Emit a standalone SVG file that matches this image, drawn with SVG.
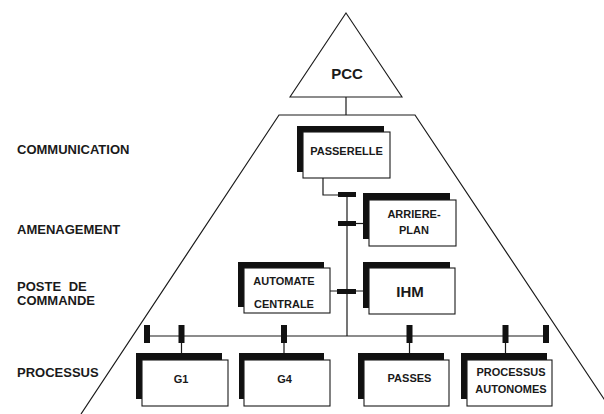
<svg xmlns="http://www.w3.org/2000/svg" width="604" height="414" viewBox="0 0 604 414">
<style>
.ln{fill:none;stroke:#1a1a1a;stroke-width:1.2}
.bk{fill:#111}
.fr{fill:#fff;stroke:#1a1a1a;stroke-width:1.1}
.bar{fill:#111}
text{font-family:"Liberation Sans",Arial,sans-serif;font-weight:bold;fill:#1a1a1a}
.bt{font-size:11px;text-anchor:middle}
.lb{font-size:13px}
</style>
<rect width="604" height="414" fill="#fff"/>
<g id="frame">
<path class="ln" d="M81,414 L279,115 L415,115 L614,414"/>
</g>
<g id="labels">
<text class="lb" x="17" y="154">COMMUNICATION</text>
<text class="lb" x="17" y="234">AMENAGEMENT</text>
<text class="lb" x="17" y="291" word-spacing="4">POSTE DE</text>
<text class="lb" x="17" y="305">COMMANDE</text>
<text class="lb" x="17" y="377">PROCESSUS</text>
</g>
<g id="connectors">
<path class="ln" d="M346,97 L346,115"/>
<path class="ln" d="M323,178 L323,195 L347,195"/>
<path class="ln" d="M347,195 L347,336"/>
<path class="ln" d="M356,223.5 L363,223.5"/>
<path class="ln" d="M330,291 L363,291"/>
<path class="ln" d="M147,336 L546,336"/>
<path class="ln" d="M181.5,343 L181.5,354 M284,343 L284,354 M409.5,343 L409.5,354 M505.5,343 L505.5,354"/>
<rect class="bar" x="338" y="192" width="18" height="5"/>
<rect class="bar" x="338" y="221" width="18" height="5"/>
<rect class="bar" x="337" y="289" width="19" height="5"/>
<rect class="bar" x="144" y="325" width="6" height="18"/>
<rect class="bar" x="178.5" y="325" width="6" height="18"/>
<rect class="bar" x="281" y="325" width="6" height="18"/>
<rect class="bar" x="406.5" y="325" width="6" height="18"/>
<rect class="bar" x="502.5" y="325" width="6" height="18"/>
<rect class="bar" x="543" y="325" width="6" height="18"/>
</g>
<g id="pcc">
<path class="fr" d="M346,13 L402,97 L290,97 Z"/>
<text x="347" y="79" font-size="15" text-anchor="middle">PCC</text>
</g>
<g id="passerelle">
<rect class="bk" x="297" y="126" width="87" height="46"/>
<rect class="fr" x="303" y="132" width="87" height="46"/>
<text class="bt" x="346.5" y="155">PASSERELLE</text>
</g>
<g id="arriere-plan">
<rect class="bk" x="363" y="193" width="87" height="46"/>
<rect class="fr" x="369" y="200" width="87" height="46"/>
<text class="bt" x="414" y="218">ARRIERE-</text>
<text class="bt" x="414" y="234">PLAN</text>
</g>
<g id="automate-centrale">
<rect class="bk" x="238" y="262" width="86" height="45"/>
<rect class="fr" x="244" y="268" width="86" height="45"/>
<text class="bt" x="284" y="285">AUTOMATE</text>
<text class="bt" x="284" y="308">CENTRALE</text>
</g>
<g id="ihm">
<rect class="bk" x="363" y="262" width="87" height="46"/>
<rect class="fr" x="369" y="268" width="86" height="46"/>
<text x="410" y="297" font-size="15" text-anchor="middle">IHM</text>
</g>
<g id="g1">
<rect class="bk" x="136" y="353" width="86" height="46"/>
<rect class="fr" x="142" y="360" width="86" height="46"/>
<text class="bt" x="181" y="383">G1</text>
</g>
<g id="g4">
<rect class="bk" x="239" y="353" width="85" height="46"/>
<rect class="fr" x="244" y="360" width="86" height="46"/>
<text class="bt" x="284.5" y="383">G4</text>
</g>
<g id="passes">
<rect class="bk" x="358" y="353" width="86" height="46"/>
<rect class="fr" x="364" y="360" width="85" height="46"/>
<text class="bt" x="409.5" y="382">PASSES</text>
</g>
<g id="processus-autonomes">
<rect class="bk" x="461" y="353" width="86" height="46"/>
<rect class="fr" x="467" y="360" width="85" height="46"/>
<text class="bt" x="511" y="376">PROCESSUS</text>
<text class="bt" x="511" y="393">AUTONOMES</text>
</g>
</svg>
